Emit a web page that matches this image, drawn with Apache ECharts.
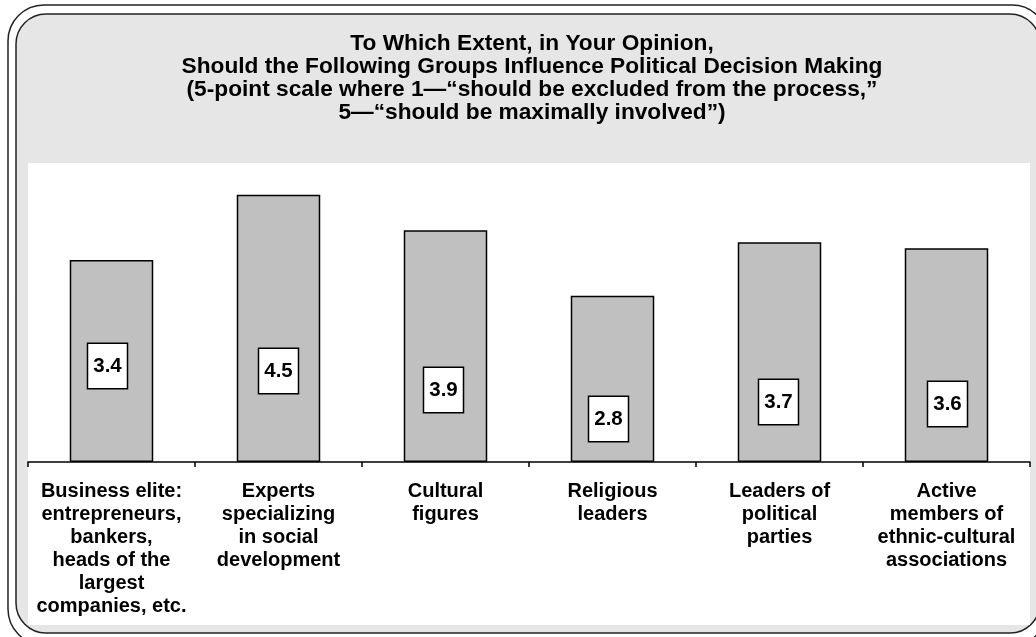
<!DOCTYPE html>
<html>
<head>
<meta charset="utf-8">
<script src="https://cdn.jsdelivr.net/npm/echarts@6/dist/echarts.min.js"></script>
<style>
html,body{margin:0;padding:0;background:#fff;}
#chart{width:1036px;height:637px;}
</style>
</head>
<body>
<div id="chart"></div>
<script>
const titleLines = [
  'To Which Extent, in Your Opinion,',
  'Should the Following Groups Influence Political Decision Making',
  '(5-point scale where 1—“should be excluded from the process,”',
  '5—“should be maximally involved”)'
];
const categories = [
  'Business elite:\nentrepreneurs,\nbankers,\nheads of the\nlargest\ncompanies, etc.',
  'Experts\nspecializing\nin social\ndevelopment',
  'Cultural\nfigures',
  'Religious\nleaders',
  'Leaders of\npolitical\nparties',
  'Active\nmembers of\nethnic-cultural\nassociations'
];
const values = [3.4, 4.5, 3.9, 2.8, 3.7, 3.6];
// label box lift above the axis (style only)
const labelLift = [74, 69, 50, 21, 38, 36];
const labelShift = [-4, 0, -2, -4, -1, 1];

const FONT = 'Arial, "Liberation Sans", Helvetica, sans-serif';
const chart = echarts.init(document.getElementById('chart'), null, {renderer: 'canvas'});

const option = {
  backgroundColor: '#ffffff',
  animation: false,
  graphic: [
    { type: 'rect', z: -30, shape: {x: 8, y: 5, width: 1040, height: 640, r: 36},
      style: {fill: '#ffffff', stroke: '#222', lineWidth: 1.5} },
    { type: 'rect', z: -20, shape: {x: 16, y: 14, width: 1024, height: 619, r: 30},
      style: {fill: '#e6e6e6', stroke: '#222', lineWidth: 1.5} },
    { type: 'rect', z: -10, shape: {x: 28, y: 163, width: 1002, height: 462},
      style: {fill: '#ffffff'} }
  ],
  title: {
    text: titleLines.join('\n'),
    left: 527,
    top: 27,
    textAlign: 'center',
    textStyle: {fontFamily: FONT, fontWeight: 'bold', fontSize: 22.7, lineHeight: 23, color: '#000'}
  },
  grid: {left: 28, right: 6, top: 165, bottom: 175, containLabel: false},
  xAxis: {
    type: 'category',
    data: categories,
    boundaryGap: true,
    axisLine: {show: true, lineStyle: {color: '#000', width: 1.5}},
    axisTick: {show: true, length: 5, lineStyle: {color: '#000', width: 1.5}},
    axisLabel: {
      interval: 0, margin: 18, color: '#000', fontFamily: FONT,
      fontWeight: 'bold', fontSize: 20, lineHeight: 23, align: 'center'
    }
  },
  yAxis: {
    type: 'value', min: 0, max: 5, show: false,
    splitLine: {show: false}
  },
  series: [{
    type: 'bar',
    barWidth: '50%',
    data: values.map((v, i) => ({
      value: v,
      label: {distance: labelLift[i], offset: [labelShift[i], 0]}
    })),
    itemStyle: {color: '#c0c0c0', borderColor: '#000', borderWidth: 1.5},
    label: {
      show: true,
      position: 'insideBottom',
      formatter: p => p.value.toFixed(1),
      color: '#000', fontFamily: FONT, fontWeight: 'bold', fontSize: 20.5, lineHeight: 21,
      backgroundColor: '#fff', borderColor: '#000', borderWidth: 1.5,
      padding: [12, 5, 11, 5]
    }
  }]
};
chart.setOption(option);
</script>
</body>
</html>
